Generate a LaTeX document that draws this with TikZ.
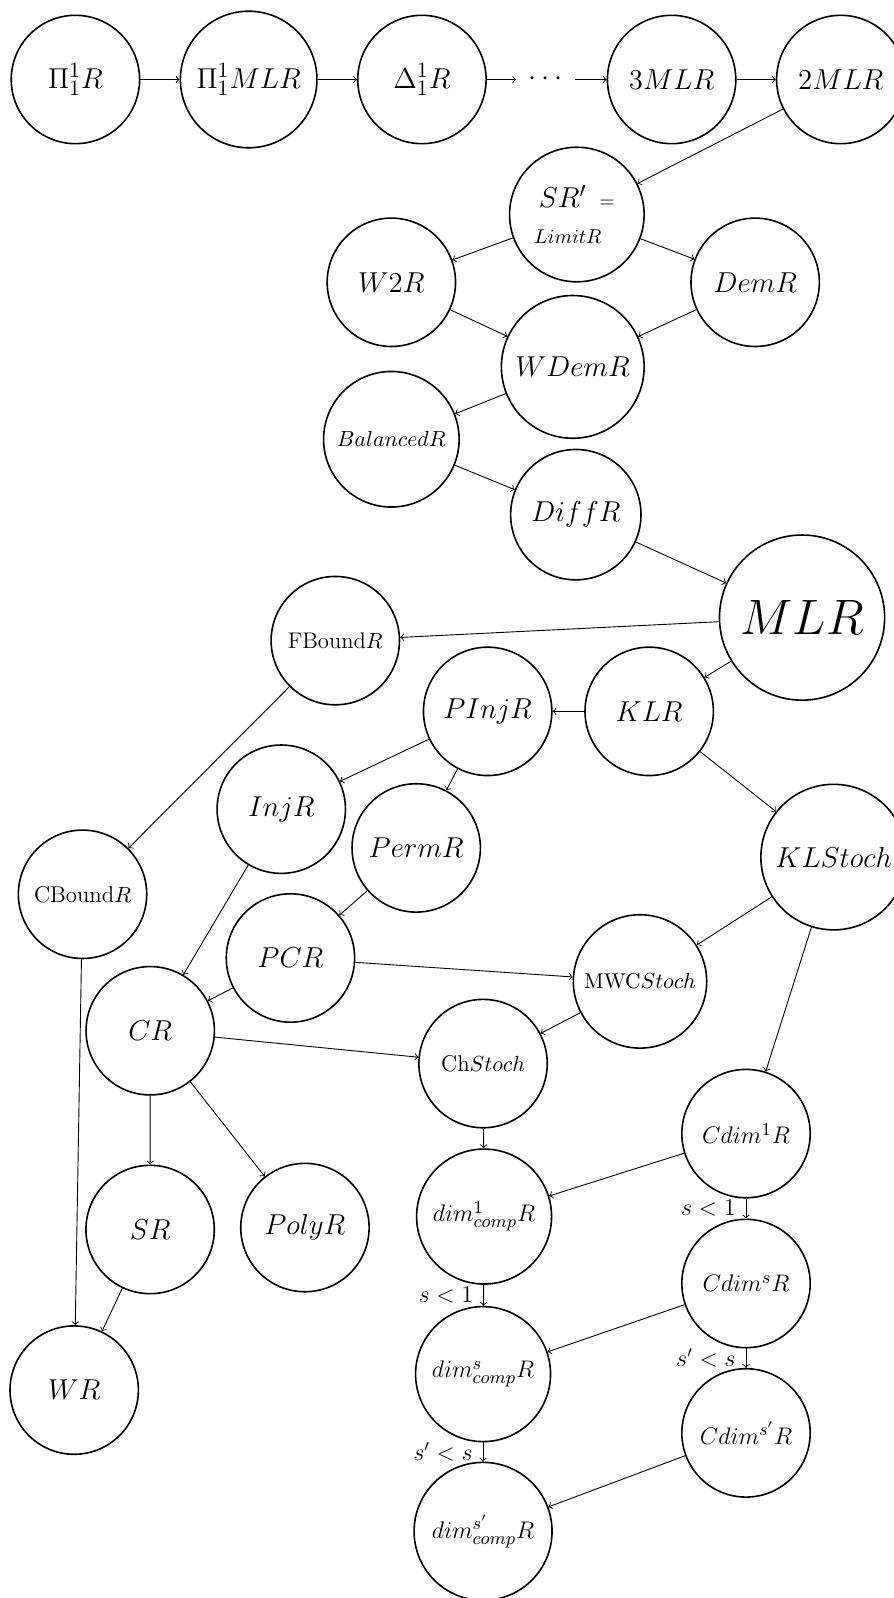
\documentclass[tikz,border=0pt]{standalone}
\usetikzlibrary{arrows}
\tikzset{
  nd/.style={circle, draw, line width=0.8pt, inner sep=0pt, minimum size=64.2pt, font=\fontsize{15}{18}\selectfont},
  arr/.style={->, line width=0.45pt},
  lab/.style={left, inner sep=5pt, font=\fontsize{12}{14}\selectfont}
}
\begin{document}
\begin{tikzpicture}[x=0.5097pt,y=-0.5097pt]
\useasboundingbox (0,0) rectangle (877,1568);
% top row
\node[nd] (pi) at (74,78) {$\Pi^1_1R$};
\node[nd, minimum size=68.3pt] (pim) at (244,78) {$\Pi^1_1MLR$};
\node[nd] (delta) at (414,78) {$\Delta^1_1R$};
\node[inner sep=6.2pt, font=\fontsize{15}{18}\selectfont] (dots) at (535.5,78) {$\cdots$};
\node[nd] (m3) at (659,78) {$3MLR$};
\node[nd] (m2) at (825,78) {$2MLR$};
% upper cluster
\node[nd, minimum size=67.3pt, align=center, font=\fontsize{10}{18}\selectfont] (srp) at (566,210.5) {{\fontsize{15}{18}\selectfont$SR'$}\hspace{3pt} $=$\\$LimitR$\hspace*{9pt}};
\node[nd] (w2r) at (384,277) {$W2R$};
\node[nd] (dem) at (741,277) {$DemR$};
\node[nd, minimum size=71.4pt] (wdem) at (562,360) {$WDemR$};
\node[nd, minimum size=67.8pt, font=\fontsize{10.6}{12}\selectfont] (bal) at (384,431) {$BalancedR$};
\node[nd, minimum size=65.2pt] (diff) at (565,505) {$DiffR$};
\node[nd, minimum size=82.6pt, font=\fontsize{27.5}{30}\selectfont] (mlr) at (787,606) {$MLR$};
% middle
\node[nd, font=\fontsize{11.3}{13}\selectfont] (fb) at (329,628.6) {FBound$R$};
\node[nd] (pinj) at (478.5,698) {$PInjR$};
\node[nd] (klr) at (637,698) {$KLR$};
\node[nd] (inj) at (276,794) {$InjR$};
\node[nd] (perm) at (408.4,832) {$PermR$};
\node[nd, minimum size=72.8pt] (kls) at (818,841) {$KLStoch$};
\node[nd, font=\fontsize{11.4}{13}\selectfont] (cb) at (81,877.5) {CBound$R$};
\node[nd] (pcr) at (285,940) {$PCR$};
\node[nd, minimum size=66.7pt, font=\fontsize{10.7}{13}\selectfont] (mwc) at (628,963) {MWC$Stoch$};
\node[nd] (cr) at (147.4,1011.4) {$CR$};
\node[nd, font=\fontsize{11.4}{13}\selectfont] (ch) at (474,1043.6) {Ch$Stoch$};
% lower
\node[nd, font=\fontsize{13}{15}\selectfont] (cd1) at (732,1112.3) {$Cdim^1R$};
\node[nd, minimum size=67.5pt, font=\fontsize{13}{15}\selectfont] (d1) at (475,1193.7) {$dim^1_{comp}R$};
\node[nd] (sr) at (147.3,1206.4) {$SR$};
\node[nd] (poly) at (299.2,1204.5) {$PolyR$};
\node[nd, font=\fontsize{13}{15}\selectfont] (cds) at (732,1259.4) {$Cdim^sR$};
\node[nd, minimum size=67.5pt, font=\fontsize{13}{15}\selectfont] (ds) at (474,1348.3) {$dim^s_{comp}R$};
\node[nd] (wr) at (72.8,1364) {$WR$};
\node[nd, font=\fontsize{13}{15}\selectfont] (cdsp) at (732,1406) {$Cdim^{s'}R$};
\node[nd, minimum size=69pt, font=\fontsize{13}{15}\selectfont] (dsp) at (474,1502.6) {$dim^{s'}_{comp}R$};
% edges
\draw[arr] (pi) -- (pim);
\draw[arr] (pim) -- (delta);
\draw[arr] (delta) -- (dots);
\draw[arr] (dots) -- (m3);
\draw[arr] (m3) -- (m2);
\draw[arr] (m2) -- (srp);
\draw[arr] (srp) -- (w2r);
\draw[arr] (srp) -- (dem);
\draw[arr] (w2r) -- (wdem);
\draw[arr] (dem) -- (wdem);
\draw[arr] (wdem) -- (bal);
\draw[arr] (bal) -- (diff);
\draw[arr] (diff) -- (mlr);
\draw[arr] (mlr) -- (fb);
\draw[arr] (mlr) -- (klr);
\draw[arr] (klr) -- (pinj);
\draw[arr] (klr) -- (kls);
\draw[arr] (pinj) -- (inj);
\draw[arr] (pinj) -- (perm);
\draw[arr] (fb) -- (cb);
\draw[arr] (perm) -- (pcr);
\draw[arr] (inj) -- (cr);
\draw[arr] (pcr) -- (cr);
\draw[arr] (pcr) -- (mwc);
\draw[arr] (kls) -- (mwc);
\draw[arr] (kls) -- (cd1);
\draw[arr] (mwc) -- (ch);
\draw[arr] (cr) -- (ch);
\draw[arr] (cr) -- (sr);
\draw[arr] (cr) -- (poly);
\draw[arr] (cb) -- (wr);
\draw[arr] (sr) -- (wr);
\draw[arr] (ch) -- (d1);
\draw[arr] (cd1) -- (d1);
\draw[arr] (cd1) -- node[lab] {$s<1$} (cds);
\draw[arr] (d1) -- node[lab] {$s<1$} (ds);
\draw[arr] (cds) -- (ds);
\draw[arr] (cds) -- node[lab] {$s'<s$} (cdsp);
\draw[arr] (ds) -- node[lab] {$s'<s$} (dsp);
\draw[arr] (cdsp) -- (dsp);
\end{tikzpicture}
\end{document}
